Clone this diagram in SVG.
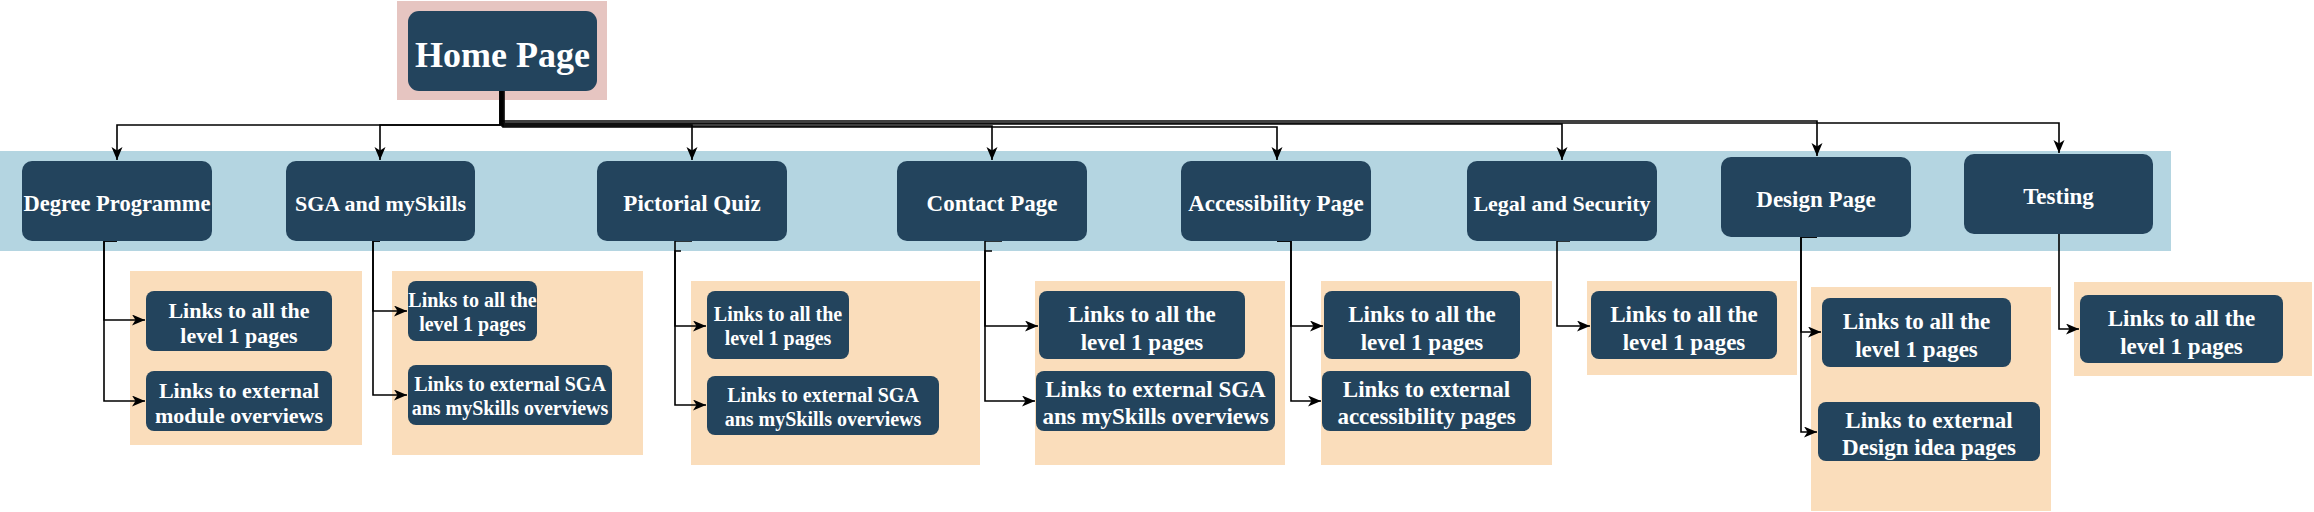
<svg xmlns="http://www.w3.org/2000/svg" width="2314" height="512" viewBox="0 0 2314 512">
<defs>
<style>
.bg{fill:#ffffff}
.band{fill:#B4D5E1}
.pink{fill:#E6C5C1}
.box{fill:#FADDBB}
.node{fill:#23445D}
.t{fill:#ffffff;font-family:"Liberation Serif","Times New Roman",serif;font-weight:bold;text-anchor:middle}
.conn{fill:none;stroke:#000000;stroke-width:1.6}
</style>
<marker id="arr" markerUnits="userSpaceOnUse" markerWidth="15" markerHeight="12" refX="13" refY="5.5" orient="auto" viewBox="0 0 15 12">
<path d="M0,0 L13,5.5 L0,11 L3.5,5.5 Z" fill="#000"/>
</marker>
</defs>
<rect class="bg" x="0" y="0" width="2314" height="512"/>

<g id="backgrounds">
<rect class="band" x="0" y="151" width="2171" height="100"/>
<rect class="pink" x="397" y="1" width="210" height="99"/>
<rect class="box" x="130" y="271" width="232" height="174"/>
<rect class="box" x="392" y="271" width="251" height="184"/>
<rect class="box" x="691" y="281" width="289" height="184"/>
<rect class="box" x="1035" y="281" width="250" height="184"/>
<rect class="box" x="1321" y="281" width="231" height="184"/>
<rect class="box" x="1587" y="281" width="210" height="94"/>
<rect class="box" x="1811" y="287" width="240" height="224"/>
<rect class="box" x="2074" y="282" width="238" height="94"/>
</g>

<g id="connectors">
<path class="conn" d="M500,91 V125 H117 V160" marker-end="url(#arr)"/>
<path class="conn" d="M500,91 V125 H380 V160" marker-end="url(#arr)"/>
<path class="conn" d="M501,91 V125 H692 V160" marker-end="url(#arr)"/>
<path class="conn" d="M502,91 V126 H992 V160" marker-end="url(#arr)"/>
<path class="conn" d="M503,91 V127 H1277 V160" marker-end="url(#arr)"/>
<path class="conn" d="M502,91 V124 H1562 V160" marker-end="url(#arr)"/>
<path class="conn" d="M501,91 V121 H1817 V156" marker-end="url(#arr)"/>
<path class="conn" d="M504,91 V123 H2059 V153" marker-end="url(#arr)"/>

<path class="conn" d="M117,241 H104 V320 H145" marker-end="url(#arr)"/>
<path class="conn" d="M117,241 H104 V401 H145" marker-end="url(#arr)"/>
<path class="conn" d="M380,241 H373 V311 H407" marker-end="url(#arr)"/>
<path class="conn" d="M380,241 H373 V395 H407" marker-end="url(#arr)"/>
<path class="conn" d="M692,241 H675 V326 H706" marker-end="url(#arr)"/>
<path class="conn" d="M681,251 H675 V405 H706" marker-end="url(#arr)"/>
<path class="conn" d="M1002,241 H985 V326 H1038" marker-end="url(#arr)"/>
<path class="conn" d="M992,251 H985 V401 H1035" marker-end="url(#arr)"/>
<path class="conn" d="M1277,241 H1291 V326 H1323" marker-end="url(#arr)"/>
<path class="conn" d="M1277,241 H1291 V401 H1321" marker-end="url(#arr)"/>
<path class="conn" d="M1570,241 H1557 V326 H1590" marker-end="url(#arr)"/>
<path class="conn" d="M1817,237 H1801 V332 H1821" marker-end="url(#arr)"/>
<path class="conn" d="M1817,237 H1801 V432 H1817" marker-end="url(#arr)"/>
<path class="conn" d="M2059,234 V329 H2079" marker-end="url(#arr)"/>
</g>

<g id="home">
<rect class="node" x="408" y="11" width="189" height="80" rx="11"/>
<text class="t" x="502.5" y="67" font-size="36">Home Page</text>
</g>

<g id="degree">
<rect class="node" x="22" y="161" width="190" height="80" rx="10"/>
<text class="t" x="117" y="211" font-size="22.5">Degree Programme</text>
</g>
<g id="sga">
<rect class="node" x="286" y="161" width="189" height="80" rx="10"/>
<text class="t" x="380.5" y="211" font-size="22">SGA and mySkills</text>
</g>
<g id="pictorial">
<rect class="node" x="597" y="161" width="190" height="80" rx="10"/>
<text class="t" x="692" y="211" font-size="23">Pictorial Quiz</text>
</g>
<g id="contact">
<rect class="node" x="897" y="161" width="190" height="80" rx="10"/>
<text class="t" x="992" y="211" font-size="23">Contact Page</text>
</g>
<g id="accessibility">
<rect class="node" x="1181" y="161" width="190" height="80" rx="10"/>
<text class="t" x="1276" y="211" font-size="23">Accessibility Page</text>
</g>
<g id="legal">
<rect class="node" x="1467" y="161" width="190" height="80" rx="10"/>
<text class="t" x="1562" y="211" font-size="22">Legal and Security</text>
</g>
<g id="design">
<rect class="node" x="1721" y="157" width="190" height="80" rx="10"/>
<text class="t" x="1816" y="207" font-size="23">Design Page</text>
</g>
<g id="testing">
<rect class="node" x="1964" y="154" width="189" height="80" rx="10"/>
<text class="t" x="2058.5" y="204" font-size="23">Testing</text>
</g>

<g id="degree-c1">
<rect class="node" x="146" y="291" width="186" height="60" rx="8"/>
<text class="t" x="239" y="318" font-size="22">Links to all the</text>
<text class="t" x="239" y="343" font-size="22">level 1 pages</text>
</g>
<g id="degree-c2">
<rect class="node" x="146" y="371" width="186" height="60" rx="8"/>
<text class="t" x="239" y="398" font-size="22">Links to external</text>
<text class="t" x="239" y="423" font-size="22">module overviews</text>
</g>

<g id="sga-c1">
<rect class="node" x="408" y="281" width="129" height="60" rx="8"/>
<text class="t" x="472.5" y="307" font-size="20">Links to all the</text>
<text class="t" x="472.5" y="331" font-size="20">level 1 pages</text>
</g>
<g id="sga-c2">
<rect class="node" x="408" y="365" width="204" height="60" rx="8"/>
<text class="t" x="510" y="391" font-size="20">Links to external SGA</text>
<text class="t" x="510" y="415" font-size="20">ans mySkills overviews</text>
</g>

<g id="pictorial-c1">
<rect class="node" x="707" y="291" width="142" height="68" rx="8"/>
<text class="t" x="778" y="321" font-size="20">Links to all the</text>
<text class="t" x="778" y="345" font-size="20">level 1 pages</text>
</g>
<g id="pictorial-c2">
<rect class="node" x="707" y="376" width="232" height="59" rx="8"/>
<text class="t" x="823" y="402" font-size="20">Links to external SGA</text>
<text class="t" x="823" y="426" font-size="20">ans mySkills overviews</text>
</g>

<g id="contact-c1">
<rect class="node" x="1039" y="291" width="206" height="68" rx="8"/>
<text class="t" x="1142" y="322" font-size="23">Links to all the</text>
<text class="t" x="1142" y="350" font-size="23">level 1 pages</text>
</g>
<g id="contact-c2">
<rect class="node" x="1036" y="371" width="239" height="60" rx="8"/>
<text class="t" x="1155.5" y="397" font-size="23">Links to external SGA</text>
<text class="t" x="1155.5" y="424" font-size="23">ans mySkills overviews</text>
</g>

<g id="accessibility-c1">
<rect class="node" x="1324" y="291" width="196" height="68" rx="8"/>
<text class="t" x="1422" y="322" font-size="23">Links to all the</text>
<text class="t" x="1422" y="350" font-size="23">level 1 pages</text>
</g>
<g id="accessibility-c2">
<rect class="node" x="1322" y="371" width="209" height="60" rx="8"/>
<text class="t" x="1426.5" y="397" font-size="23">Links to external</text>
<text class="t" x="1426.5" y="424" font-size="23">accessibility pages</text>
</g>

<g id="legal-c1">
<rect class="node" x="1591" y="291" width="186" height="68" rx="8"/>
<text class="t" x="1684" y="322" font-size="23">Links to all the</text>
<text class="t" x="1684" y="350" font-size="23">level 1 pages</text>
</g>

<g id="design-c1">
<rect class="node" x="1822" y="298" width="189" height="69" rx="8"/>
<text class="t" x="1916.5" y="329" font-size="23">Links to all the</text>
<text class="t" x="1916.5" y="357" font-size="23">level 1 pages</text>
</g>
<g id="design-c2">
<rect class="node" x="1818" y="402" width="222" height="59" rx="8"/>
<text class="t" x="1929" y="428" font-size="23">Links to external</text>
<text class="t" x="1929" y="455" font-size="23">Design idea pages</text>
</g>

<g id="testing-c1">
<rect class="node" x="2080" y="295" width="203" height="68" rx="8"/>
<text class="t" x="2181.5" y="326" font-size="23">Links to all the</text>
<text class="t" x="2181.5" y="354" font-size="23">level 1 pages</text>
</g>
</svg>
